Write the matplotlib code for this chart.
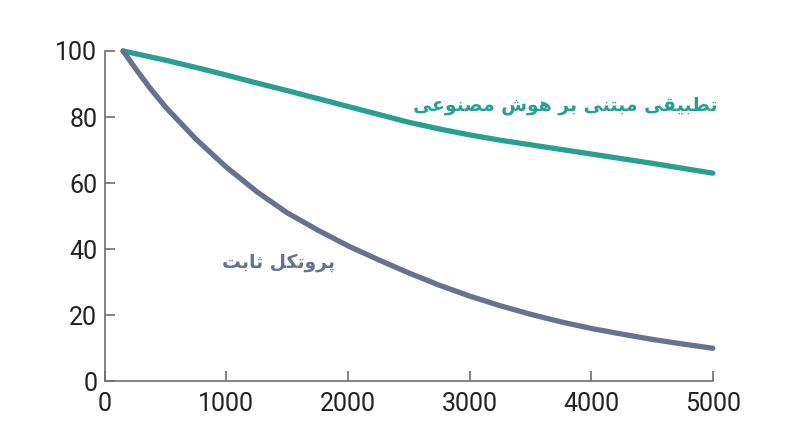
import matplotlib
matplotlib.use("Agg")
from matplotlib import pyplot as plt

# data
steps = [150, 250, 375, 500, 750, 1000, 1250, 1500, 1750, 2000, 2250, 2500,
         2750, 3000, 3250, 3500, 3750, 4000, 4250, 4500, 4750, 5000]
ai_based = [100, 99.2, 98.2, 97.2, 95.0, 92.7, 90.3, 88.0, 85.6, 83.2, 80.8, 78.4,
            76.4, 74.6, 73.0, 71.6, 70.2, 68.8, 67.4, 66.0, 64.5, 63.0]
fixed_protocol = [100, 94.8, 88.6, 83.0, 73.3, 64.8, 57.4, 51.0, 45.8, 41.0, 36.8, 32.8,
                  29.1, 25.8, 22.9, 20.3, 18.0, 16.0, 14.3, 12.7, 11.3, 10.0]
x_ticks = [0, 1000, 2000, 3000, 4000, 5000]
y_ticks = [0, 20, 40, 60, 80, 100]
label_ai = "تطبیقی مبتنی بر هوش مصنوعی"
label_fixed = "پروتکل ثابت"

green = "#28a08f"
slate = "#67728f"

# minimal arabic/persian shaping (matplotlib draws glyphs unshaped, left to right)
# letter: (isolated, final, initial, medial); right-joining letters have only two forms
forms = {
    "ا": (0xFE8D, 0xFE8E), "ب": (0xFE8F, 0xFE90, 0xFE91, 0xFE92),
    "پ": (0xFB56, 0xFB57, 0xFB58, 0xFB59), "ت": (0xFE95, 0xFE96, 0xFE97, 0xFE98),
    "ث": (0xFE99, 0xFE9A, 0xFE9B, 0xFE9C), "ر": (0xFEAD, 0xFEAE),
    "ش": (0xFEB5, 0xFEB6, 0xFEB7, 0xFEB8), "ص": (0xFEB9, 0xFEBA, 0xFEBB, 0xFEBC),
    "ط": (0xFEC1, 0xFEC2, 0xFEC3, 0xFEC4), "ع": (0xFEC9, 0xFECA, 0xFECB, 0xFECC),
    "ق": (0xFED5, 0xFED6, 0xFED7, 0xFED8), "ک": (0xFB8E, 0xFB8F, 0xFB90, 0xFB91),
    "ل": (0xFEDD, 0xFEDE, 0xFEDF, 0xFEE0), "م": (0xFEE1, 0xFEE2, 0xFEE3, 0xFEE4),
    "ن": (0xFEE5, 0xFEE6, 0xFEE7, 0xFEE8), "و": (0xFEED, 0xFEEE),
    "ه": (0xFEE9, 0xFEEA, 0xFEEB, 0xFEEC), "ی": (0xFBFC, 0xFBFD, 0xFBFE, 0xFBFF),
}


def shape(s):
    out = []
    for i, ch in enumerate(s):
        f = forms.get(ch)
        if f is None:
            out.append(ch)
            continue
        prev = s[i - 1] if i > 0 else ""
        nxt = s[i + 1] if i + 1 < len(s) else ""
        join_prev = prev in forms and len(forms[prev]) == 4
        join_next = len(f) == 4 and nxt in forms
        if join_prev and join_next:
            cp = f[3]
        elif join_prev:
            cp = f[1]
        elif join_next:
            cp = f[2]
        else:
            cp = f[0]
        out.append(chr(cp))
    return "".join(out)[::-1]


plt.rcParams["font.family"] = ["Roboto", "DejaVu Sans"]

fig = plt.figure(figsize=(8, 4.47), dpi=100)
ax = fig.add_axes([0.131, 0.147, 0.760, 0.739])

ax.plot(steps, ai_based, color=green, lw=3.8, solid_capstyle="round", clip_on=False, zorder=3)
ax.plot(steps, fixed_protocol, color=slate, lw=3.8, solid_capstyle="round", clip_on=False, zorder=3)

ax.text(5040, 83.5, shape(label_ai), color=green, fontsize=13.5, fontweight="bold",
        family="DejaVu Sans", ha="right", va="center")
ax.text(1890, 36, shape(label_fixed), color=slate, fontsize=13.5, fontweight="bold",
        family="DejaVu Sans", ha="right", va="center")

ax.set_xlim(0, 5000)
ax.set_ylim(0, 100)
ax.set_xticks(x_ticks)
ax.set_yticks(y_ticks)
for side in ["top", "right"]:
    ax.spines[side].set_visible(False)
for side in ["left", "bottom"]:
    ax.spines[side].set_color("#6e6e6e")
    ax.spines[side].set_linewidth(1.2)
ax.tick_params(direction="in", length=7.5, width=1.2, color="#6e6e6e",
               labelsize=18, labelcolor="#222222")
ax.tick_params(axis="x", pad=8)
ax.tick_params(axis="y", pad=5.5)

fig.savefig("out.png", dpi=100)
